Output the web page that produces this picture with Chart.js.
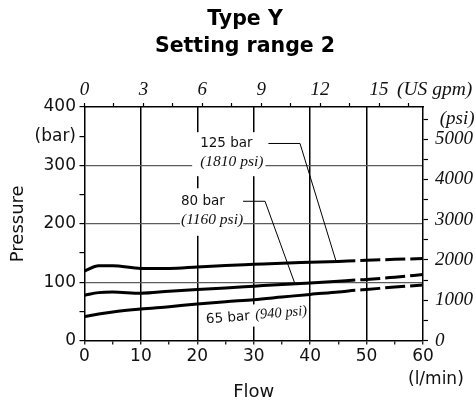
<!DOCTYPE html>
<html>
<head>
<meta charset="utf-8">
<script src="https://cdn.jsdelivr.net/npm/chart.js@4/dist/chart.umd.min.js"></script>
<style>
  html, body { margin: 0; padding: 0; background: #fff; }
  canvas { display: block; }
</style>
</head>
<body>
<canvas id="chart" width="476" height="403"></canvas>
<script>
// Flow (l/min) sample points shared by the three pressure curves
const flow   = [0, 2.5, 5, 10, 15, 20, 25, 30, 35, 40, 45, 48, 50, 55, 60];
// Pressure (bar) for each setting
const bar125 = [119, 128, 128, 123.5, 123.5, 126, 128.5, 130.5, 132.5, 134, 135.5, 136.8, 137.5, 139, 140.5];
const bar80  = [77.5, 82, 83, 81, 84.5, 87.5, 90, 93, 96, 98.5, 101.5, 103.5, 104.5, 108.5, 113];
const bar65  = [41, 45.5, 49, 54, 58, 62.5, 66.5, 70, 74.5, 79, 83, 86, 87.5, 91.5, 95];
const dashFrom = 48;                       // curves continue dashed beyond this flow

const seriesNames = ['125 bar', '80 bar', '65 bar'];
const seriesPsi   = ['(1810 psi)', '(1160 psi)', '(940 psi)'];

// Axis ticks: labelled values and tick-mark positions
const flowTicks = [0, 10, 20, 30, 40, 50, 60];
const flowMarks = [0, 5, 10, 15, 20, 25, 30, 35, 40, 45, 50, 55, 60];
const barTicks  = [0, 100, 200, 300, 400];
const barMarks  = [0, 50, 100, 150, 200, 250, 300, 350, 400];
const gpmTicks  = [0, 3, 6, 9, 12, 15];
const gpmMarks  = [0, 1.5, 3, 4.5, 6, 7.5, 9, 10.5, 12, 13.5, 15, 16.5];
const psiTicks  = [0, 1000, 2000, 3000, 4000, 5000];
const psiMarks  = [0, 500, 1000, 1500, 2000, 2500, 3000, 3500, 4000, 4500, 5000, 5500];
const barUnitAt = 350;     // "(bar)" sits on this left tick
const psiUnitAt = 5500;    // "(psi)" sits on this right tick
const gpmMax = 17.24;      // top scale span over 0..60 l/min
const psiMax = 5800;       // right scale span over 0..400 bar

const SANS = 'DejaVu Sans';
const SERIF = 'Liberation Serif';

// Callout placement (data coordinates) and white backing pads [left, right, top, bottom]
const callouts = [
  { series: 0, at: [20.5, 338], pad: [8, 2, 11, 14], leader: [[32.6, 337.5], [38.2, 337.5]], hit: 44.6 },
  { series: 1, at: [17.1, 238.5], pad: [1, 0, 13, 15.5], leader: [[28.1, 238.5], [32.0, 238.5]], hit: 37.3 }
];
const tilted = { series: 2, at: [21.6, 29.4], angle: -4.5 };

const curves = [bar125, bar80, bar65];

function valueAt(ys, x) {
  for (let i = 1; i < flow.length; i++) {
    if (x <= flow[i]) {
      const t = (x - flow[i - 1]) / (flow[i] - flow[i - 1]);
      return ys[i - 1] + t * (ys[i] - ys[i - 1]);
    }
  }
  return ys[ys.length - 1];
}

const marksFrom = list => scale => { scale.ticks = list.map(v => ({ value: v })); };

const calloutPlugin = {
  id: 'callouts',
  beforeDatasetsDraw(chart) {
    const ctx = chart.ctx;
    const xs = chart.scales.x, ys = chart.scales.y;
    const px = v => xs.getPixelForValue(v);
    const py = v => ys.getPixelForValue(v);
    ctx.save();
    const mainFont = `13.5px "${SANS}"`;
    const subFont = `italic 15.5px "${SERIF}"`;
    const lineGap = 19;

    callouts.forEach(c => {
      const x0 = px(c.at[0]), y0 = py(c.at[1]);
      ctx.font = mainFont;
      const w1 = ctx.measureText(seriesNames[c.series]).width;
      ctx.font = subFont;
      const w2 = ctx.measureText(seriesPsi[c.series]).width;
      const w = Math.max(w1, w2);
      const [pl, pr, pt, pb] = c.pad;
      ctx.fillStyle = '#fff';
      ctx.fillRect(x0 - pl, y0 - pt, w + pl + pr, lineGap + pt + pb);

      ctx.fillStyle = '#111';
      ctx.textAlign = 'left';
      ctx.textBaseline = 'middle';
      ctx.font = mainFont;
      ctx.fillText(seriesNames[c.series], x0, y0);
      ctx.font = subFont;
      ctx.fillText(seriesPsi[c.series], x0, y0 + lineGap);

      // leader line from the label to its curve
      ctx.strokeStyle = '#000';
      ctx.lineWidth = 1;
      ctx.beginPath();
      ctx.moveTo(px(c.leader[0][0]), py(c.leader[0][1]));
      ctx.lineTo(px(c.leader[1][0]), py(c.leader[1][1]));
      ctx.lineTo(px(c.hit), py(valueAt(curves[c.series], c.hit)));
      ctx.stroke();
    });

    // slanted label under the lowest curve
    const tx = px(tilted.at[0]), ty = py(tilted.at[1]);
    ctx.translate(tx, ty);
    ctx.rotate(tilted.angle * Math.PI / 180);
    ctx.textBaseline = 'alphabetic';
    ctx.textAlign = 'left';
    ctx.font = mainFont;
    const a = ctx.measureText(seriesNames[tilted.series]).width;
    const tiltSub = `italic 14.5px "${SERIF}"`;
    ctx.font = tiltSub;
    const b = ctx.measureText(seriesPsi[tilted.series]).width;
    const gap = 5.5;
    ctx.fillStyle = '#fff';
    ctx.fillRect(-3, -15, a + gap + b + 4, 22);
    ctx.fillStyle = '#111';
    ctx.font = mainFont;
    ctx.fillText(seriesNames[tilted.series], 0, 0);
    ctx.font = tiltSub;
    ctx.fillText(seriesPsi[tilted.series], a + gap, -0.5);
    ctx.restore();
  },
  afterDraw(chart) {
    // unit captions beside the last flow ticks
    const ctx = chart.ctx;
    const xs = chart.scales.x, xt = chart.scales.x2;
    ctx.save();
    ctx.fillStyle = '#111';
    ctx.textBaseline = 'middle';
    ctx.textAlign = 'left';
    ctx.font = `italic 19.5px "${SERIF}"`;
    ctx.fillText('(US gpm)', xt.getPixelForValue(15) + 18, xt.bottom - 17);
    ctx.font = `17px "${SANS}"`;
    ctx.fillText('(l/min)', xs.getPixelForValue(60) - 15, xs.top + 39.5);
    ctx.restore();
  }
};

const solid = undefined;
const dashed = [20, 5];

function curveDataset(i) {
  return {
    label: seriesNames[i],
    data: flow.map((f, k) => ({ x: f, y: curves[i][k] })),
    borderColor: '#000',
    borderWidth: 3,
    pointRadius: 0,
    fill: false,
    cubicInterpolationMode: 'monotone',
    segment: {
      borderDash: ctx => ctx.p0.parsed.x >= dashFrom ? dashed : solid,
      borderDashOffset: ctx => ctx.p0.parsed.x >= dashFrom ? 20 : 0
    }
  };
}

const tickMark = { tickColor: '#000', tickWidth: 1.2 };
const none = 'rgba(0,0,0,0)';

new Chart(document.getElementById('chart'), {
  type: 'line',
  data: { datasets: [curveDataset(0), curveDataset(1), curveDataset(2)] },
  plugins: [calloutPlugin],
  options: {
    responsive: false,
    animation: false,
    devicePixelRatio: 1,
    layout: { padding: { left: 14, right: 0, top: 0, bottom: 0 } },
    plugins: {
      legend: { display: false },
      tooltip: { enabled: false },
      title: {
        display: true,
        text: ['Type Y', 'Setting range 2'],
        color: '#000',
        font: { family: SANS, size: 20.5, weight: 'bold', lineHeight: 1.317 },
        padding: { top: 6.5, bottom: 9.5 }
      }
    },
    scales: {
      x: {
        type: 'linear', position: 'bottom', min: 0, max: 60,
        afterFit: s => { s.height = 62.5; },
        afterBuildTicks: marksFrom(flowMarks),
        ticks: {
          autoSkip: false, maxRotation: 0, padding: 2, color: '#111',
          font: { family: SANS, size: 17 },
          callback: v => flowTicks.includes(v) ? String(v) : ''
        },
        grid: {
          color: c => (c.tick && c.tick.value > 0 && c.tick.value < 60 && flowTicks.includes(c.tick.value)) ? '#000' : none,
          lineWidth: 1.5, tickLength: 4, ...tickMark
        },
        border: { display: true, color: '#000', width: 1.5 },
        title: { display: true, text: 'Flow', color: '#111', font: { family: SANS, size: 18 }, padding: { top: 0, bottom: 0 } }
      },
      x2: {
        type: 'linear', position: 'top', min: 0, max: gpmMax,
        afterFit: s => { s.height = 37; },
        afterBuildTicks: marksFrom(gpmMarks),
        ticks: {
          autoSkip: false, maxRotation: 0, padding: 1.6, color: '#111',
          font: { family: SERIF, size: 19, style: 'italic' },
          callback: v => gpmTicks.includes(v) ? String(v) : ''
        },
        grid: { drawOnChartArea: false, tickLength: 4, ...tickMark },
        border: { display: true, color: '#000', width: 1.5 }
      },
      y: {
        type: 'linear', position: 'left', min: 0, max: 400,
        afterFit: s => { s.width = 70.5; },
        afterBuildTicks: marksFrom(barMarks),
        ticks: {
          autoSkip: false, padding: 3.5, color: '#111',
          font: { family: SANS, size: 17 },
          callback: v => barTicks.includes(v) ? String(v) : (v === barUnitAt ? '(bar)' : '')
        },
        grid: {
          color: c => (c.tick && c.tick.value > 0 && c.tick.value < 400 && barTicks.includes(c.tick.value)) ? '#5c5c5c' : none,
          lineWidth: 1.2, tickLength: 5, ...tickMark
        },
        border: { display: true, color: '#000', width: 1.5 },
        title: { display: true, text: 'Pressure', color: '#111', font: { family: SANS, size: 18 }, padding: { top: -6.8, bottom: 0 } }
      },
      y2: {
        type: 'linear', position: 'right', min: 0, max: psiMax,
        afterFit: s => { s.width = 53; },
        afterBuildTicks: marksFrom(psiMarks),
        ticks: {
          autoSkip: false, padding: 7, crossAlign: 'near', color: '#111',
          font: { family: SERIF, size: 19, style: 'italic' },
          callback: v => psiTicks.includes(v) ? String(v) : (v === psiUnitAt ? ' (psi)' : '')
        },
        grid: { drawOnChartArea: false, tickLength: 5, ...tickMark },
        border: { display: true, color: '#000', width: 1.5 }
      }
    }
  }
});
</script>
</body>
</html>
